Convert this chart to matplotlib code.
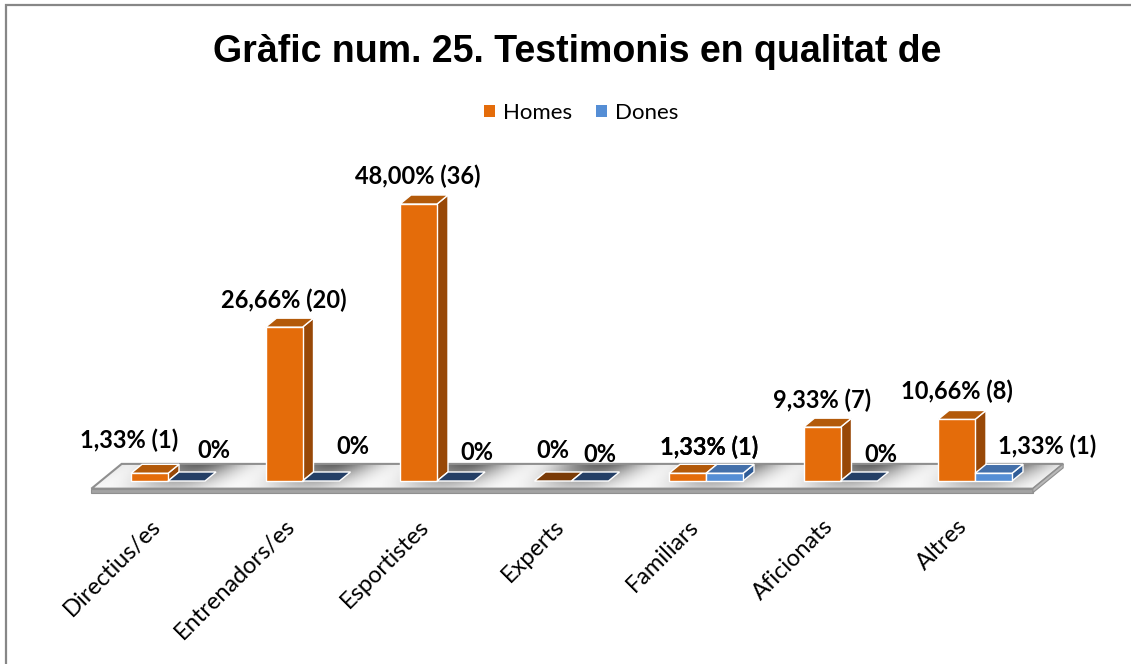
import numpy as np
import matplotlib
matplotlib.use('Agg')
import matplotlib.pyplot as plt
from matplotlib.patches import Polygon, Rectangle, Patch

# data
categories = ['Directius/es', 'Entrenadors/es', 'Esportistes', 'Experts',
              'Familiars', 'Aficionats', 'Altres']
homes_n = [1, 20, 36, 0, 1, 7, 8]
dones_n = [0, 0, 0, 0, 1, 0, 1]
homes_pct = [1.33, 26.66, 48.00, 0, 1.33, 9.33, 10.66]
dones_pct = [0, 0, 0, 0, 1.33, 0, 1.33]
series_names = ['Homes', 'Dones']
title = 'Gràfic num. 25. Testimonis en qualitat de'

# label offsets in pixels (Excel nudged a few of them)
homes_dx = [-20, 0, -1, 0, 22, 0, 0]
homes_dy = [33, 27, 28, 31, 26, 27, 28]
dones_dx = [27, 32, 21, 10, -15, 22, 54]
dones_dy = [31, 34, 28, 26, 26, 26, 27]

W, H = 1131, 664
fig = plt.figure(figsize=(W / 100, H / 100), dpi=100)
fig.patch.set_facecolor('white')

# axes over the whole figure, scaled so one category = 134.5 px, 1% = 5.77 px
PX_X, PX_Y = 134.5, 5.77
ax = fig.add_axes([0, 0, 1, 1])
ax.axis('off')

def depth(x, y, t):
    # pseudo 3d: move t bar-depths backwards (11 px right, 9 px up)
    return (x + t * 11 / PX_X, y + t * 9 / PX_Y)

# floor
x0, x1 = -0.5, 6.5
tf, tb = -0.85, 1.9
th = 4 / PX_Y
floor_pts = [depth(x0, 0, tf), depth(x1, 0, tf), depth(x1, 0, tb), depth(x0, 0, tb)]
floor = Polygon(floor_pts, closed=True, facecolor='none', edgecolor='#8f8f8f', lw=1.5, zorder=2)
ax.add_patch(floor)
fy0, fy1 = floor_pts[0][1], floor_pts[2][1]
ex0, ex1 = floor_pts[0][0], floor_pts[2][0]
gx, gy = np.meshgrid(np.linspace(ex0, ex1, 600), np.linspace(fy0, fy1, 120))
tt = (gy - fy0) / (9 / PX_Y)          # depth position
xe = gx - tt * 11 / PX_X               # slant streaks along the depth direction
gv = (gy - fy0) / (fy1 - fy0)
shade = 1 - 0.62 * (0.3 + 0.7 * gv) * (0.12 + 0.88 * np.cos(np.pi * xe) ** 2)
im = ax.imshow(shade, cmap='gray', vmin=0, vmax=1, origin='lower', aspect='auto',
               extent=[ex0, ex1, fy0, fy1], zorder=1)
im.set_clip_path(floor)
fx, fyy = depth(x1, 0, tf)
bx, byy = depth(x1, 0, tb)
ax.add_patch(Polygon([floor_pts[0], (fx, fyy), (fx, fyy - th), (floor_pts[0][0], fy0 - th)],
                     closed=True, facecolor='#a3a3a3', edgecolor='#8f8f8f', lw=0.8, zorder=2))
ax.add_patch(Polygon([(fx, fyy), (bx, byy), (bx, byy - th), (fx, fyy - th)],
                     closed=True, facecolor='#b8b8b8', edgecolor='#8f8f8f', lw=0.8, zorder=2))

colors = {
    'Homes': dict(front='#E46C0A', side='#984807', top='#B35A0A', zero='#7A3A06'),
    'Dones': dict(front='#558ED5', side='#2F5C97', top='#4470AA', zero='#243F66'),
}
bw = 37 / PX_X

def draw_bar(xl, h, c, z):
    if h > 0:
        side = [(xl + bw, 0), (xl + bw, h), depth(xl + bw, h, 1), depth(xl + bw, 0, 1)]
        top = [(xl, h), (xl + bw, h), depth(xl + bw, h, 1), depth(xl, h, 1)]
        ax.add_patch(Polygon(side, closed=True, facecolor=c['side'], edgecolor='white', lw=1, zorder=z))
        ax.add_patch(Polygon(top, closed=True, facecolor=c['top'], edgecolor='white', lw=1, zorder=z))
        ax.bar(xl, h, width=bw, align='edge', color=c['front'], edgecolor='white', lw=1, zorder=z)
    else:
        top = [(xl, 0), (xl + bw, 0), depth(xl + bw, 0, 1), depth(xl, 0, 1)]
        ax.add_patch(Polygon(top, closed=True, facecolor=c['zero'], edgecolor='white', lw=1, zorder=z))

def pct_label(p, n):
    if n == 0:
        return '0%'
    return ('%.2f%% (%d)' % (p, n)).replace('.', ',')

for i in range(len(categories)):
    draw_bar(i - bw, homes_pct[i], colors['Homes'], 3)
    draw_bar(i, dones_pct[i], colors['Dones'], 3)

lab_font = dict(family='Lato', fontsize=17, fontweight='bold', color='black')
for i in range(len(categories)):
    ax.annotate(pct_label(homes_pct[i], homes_n[i]), xy=(i - bw / 2, homes_pct[i]),
                xytext=(homes_dx[i], homes_dy[i]), textcoords='offset pixels',
                ha='center', va='center', zorder=6, **lab_font)
    ax.annotate(pct_label(dones_pct[i], dones_n[i]), xy=(i + bw / 2, dones_pct[i]),
                xytext=(dones_dx[i], dones_dy[i]), textcoords='offset pixels',
                ha='center', va='center', zorder=6, **lab_font)

# category labels
for i, cat in enumerate(categories):
    ax.annotate(cat, xy=(i, 0), xytext=(-11, -42), textcoords='offset pixels',
                rotation=45, rotation_mode='anchor', ha='right', va='center',
                family='Lato', fontsize=17, color='black')

ax.set_xlim(-168 / PX_X, (W - 168) / PX_X)
ax.set_ylim((481 - H) / PX_Y, 481 / PX_Y)

handles = [Patch(facecolor=colors[s]['front']) for s in series_names]
fig.legend(handles, series_names, loc='center', bbox_to_anchor=(581 / W, 1 - 113 / H),
           ncol=2, frameon=False, prop={'family': 'Lato', 'size': 16},
           handlelength=0.5, handleheight=0.5, handletextpad=0.35, columnspacing=1.1)

fig.text(577 / W, 1 - 62 / H, title, ha='center', va='baseline',
         fontsize=27, fontweight='bold', family='Liberation Sans')

fig.add_artist(Rectangle((6 / W, -0.05), 1.1, 1.05 - 5 / H, transform=fig.transFigure,
                         facecolor='none', edgecolor='#878787', lw=1.6))

fig.savefig('out.png', dpi=100)
